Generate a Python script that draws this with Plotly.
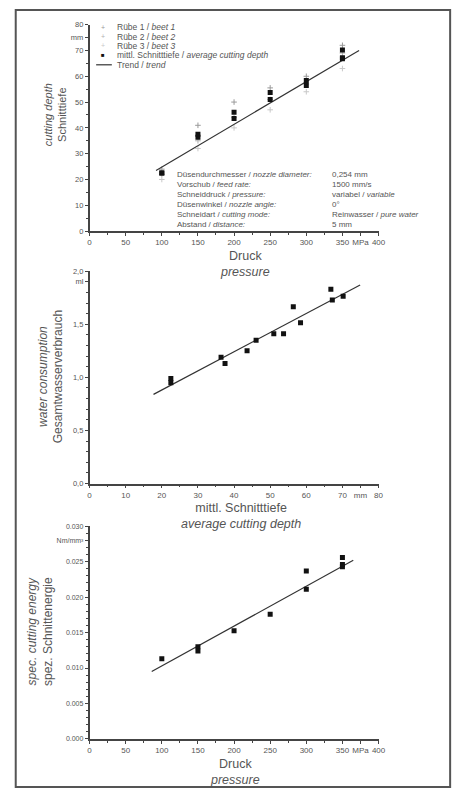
import plotly.graph_objects as go

W, H = 464, 794

# ---------------- data ----------------
pressure = [100, 150, 200, 250, 300, 350]
beet1 = [24, 41, 50, 55.5, 60, 72]
beet2 = [22, 35, 44, 51, 57, 69]
beet3 = [20, 32, 40, 47, 54, 63]

avg_pressure = [100, 100, 150, 150, 200, 200, 250, 250, 300, 300, 350, 350, 350]
avg_depth = [22.5, 22.5, 36.4, 37.5, 43.6, 46.1, 51.0, 53.7, 56.4, 58.4, 66.8, 67.2, 70.2]
trend1_x = [92, 373]
trend1_y = [23.5, 70]

water_depth = [22.5, 22.5, 36.4, 37.5, 43.6, 46.1, 51.0, 53.7, 56.4, 58.4, 66.8, 67.2, 70.2]
water_use = [0.99, 0.95, 1.19, 1.13, 1.25, 1.35, 1.41, 1.41, 1.665, 1.515, 1.83, 1.73, 1.765]
trend2_x = [17.7, 74.9]
trend2_y = [0.84, 1.87]

energy_pressure = [100, 150, 150, 200, 250, 300, 300, 350, 350, 350]
energy = [0.0113, 0.0130, 0.0124, 0.01525, 0.0176, 0.0237, 0.0211, 0.0256, 0.0246, 0.0243]
trend3_x = [86, 365]
trend3_y = [0.0095, 0.0252]

x1_ticks = [0, 50, 100, 150, 200, 250, 300, 350, 375, 400]
x1_text = ["0", "50", "100", "150", "200", "250", "300", "350", "MPa", "400"]
y1_ticks = [0, 10, 20, 30, 40, 50, 60, 70, 75, 80]
y1_text = ["0", "10", "20", "30", "40", "50", "60", "70", "mm", "80"]
x2_ticks = [0, 10, 20, 30, 40, 50, 60, 70, 75, 80]
x2_text = ["0", "10", "20", "30", "40", "50", "60", "70", "mm", "80"]
y2_ticks = [0, 0.5, 1.0, 1.5, 1.9, 2.0]
y2_text = ["0,0", "0,5", "1,0", "1,5", "ml", "2,0"]
y3_ticks = [0, 0.005, 0.010, 0.015, 0.020, 0.025, 0.028, 0.030]
y3_text = ["0.000", "0.005", "0.010", "0.015", "0.020", "0.025", "Nm/mm³", "0.030"]

info_left = ["Düsendurchmesser / <i>nozzle diameter:</i>", "Vorschub / <i>feed rate:</i>",
             "Schneiddruck / <i>pressure:</i>", "Düsenwinkel / <i>nozzle angle:</i>",
             "Schneidart / <i>cutting mode:</i>", "Abstand / <i>distance:</i>"]
info_right = ["0,254 mm", "1500 mm/s", "variabel / <i>variable</i>", "0°",
              "Reinwasser / <i>pure water</i>", "5 mm"]

legend_labels = ["Rübe 1 / <i>beet 1</i>", "Rübe 2 / <i>beet 2</i>", "Rübe 3 / <i>beet 3</i>",
                 "mittl. Schnitttiefe / <i>average cutting depth</i>", "Trend / <i>trend</i>"]

# ---------------- helpers ----------------
def px(x):
    return x / W

def py(y):
    return 1 - y / H

TXT = "#555555"
AX = "#444444"
FONT = "Liberation Sans, Arial, sans-serif"
beet_colors = ["#9a9a9a", "#b0b0b0", "#c8c8c8"]

fig = go.Figure()

# plot 1
for vals, col in zip([beet1, beet2, beet3], beet_colors):
    fig.add_trace(go.Scatter(x=pressure, y=vals, mode="markers", xaxis="x", yaxis="y",
                             marker=dict(symbol="cross-thin", size=4, line=dict(width=1, color=col)),
                             showlegend=False))
fig.add_trace(go.Scatter(x=trend1_x, y=trend1_y, mode="lines", xaxis="x", yaxis="y",
                         line=dict(color="#333", width=1.2), showlegend=False))
fig.add_trace(go.Scatter(x=avg_pressure, y=avg_depth, mode="markers", xaxis="x", yaxis="y",
                         marker=dict(symbol="square", size=5, color="#111"), showlegend=False))

# plot 2
fig.add_trace(go.Scatter(x=trend2_x, y=trend2_y, mode="lines", xaxis="x2", yaxis="y2",
                         line=dict(color="#333", width=1.2), showlegend=False))
fig.add_trace(go.Scatter(x=water_depth, y=water_use, mode="markers", xaxis="x2", yaxis="y2",
                         marker=dict(symbol="square", size=5, color="#111"), showlegend=False))

# plot 3
fig.add_trace(go.Scatter(x=trend3_x, y=trend3_y, mode="lines", xaxis="x3", yaxis="y3",
                         line=dict(color="#333", width=1.2), showlegend=False))
fig.add_trace(go.Scatter(x=energy_pressure, y=energy, mode="markers", xaxis="x3", yaxis="y3",
                         marker=dict(symbol="square", size=5, color="#111"), showlegend=False))

xdom = [px(89.3), px(384)]

def axis_common(ticks, text, fsize, minor_dtick, rng, domain, anchor):
    return dict(range=rng, domain=domain, anchor=anchor, tickmode="array", tickvals=ticks,
                ticktext=text, showgrid=False, zeroline=False, showline=True, linecolor=AX,
                linewidth=1.5, ticks="outside", ticklen=3, tickwidth=1, tickcolor=AX,
                tickfont=dict(size=fsize, color=TXT, family=FONT),
                minor=dict(tickmode="linear", tick0=0, dtick=minor_dtick, ticks="outside",
                           ticklen=2, tickwidth=1, tickcolor=AX))

fig.update_layout(
    width=W, height=H,
    margin=dict(l=0, r=0, t=0, b=0),
    paper_bgcolor="white", plot_bgcolor="white",
    font=dict(family=FONT, color=TXT),
    showlegend=False,
    xaxis=axis_common(x1_ticks, x1_text, 8, 25, [0, 400], xdom, "y"),
    yaxis=axis_common(y1_ticks, y1_text, 7.5, 5, [0, 80], [py(229.7), py(20.9)], "x"),
    xaxis2=axis_common(x2_ticks, x2_text, 8, 5, [0, 80], xdom, "y2"),
    yaxis2=axis_common(y2_ticks, y2_text, 7.5, 0.1, [0, 2.0], [py(485), py(270.3)], "x2"),
    xaxis3=axis_common(x1_ticks, x1_text, 8, 25, [0, 400], xdom, "y3"),
    yaxis3=axis_common(y3_ticks, y3_text, 7, 0.001, [0, 0.030], [py(743.3), py(528.3)], "x3"),
)

ann = []

def add_text(x, y, text, size, angle=0, xanchor="center", color=TXT):
    ann.append(dict(x=px(x), y=py(y), xref="paper", yref="paper", text=text, showarrow=False,
                    textangle=angle, xanchor=xanchor, yanchor="middle",
                    font=dict(size=size, color=color, family=FONT)))

# axis titles (two lines each, one text block)
add_text(248, 263, "Druck<br><i>pressure</i>", 12.5)
add_text(244, 518, "mittl. Schnitttiefe<br><i>average cutting depth</i>", 12.5)
add_text(238, 777, "Druck<br><i>pressure</i>", 12.5)

add_text(53.5, 112, "<i>cutting depth</i><br>Schnitttiefe", 11, angle=-90)
add_text(49.5, 377, "<i>water consumption</i><br>Gesamtwasserverbrauch", 12, angle=-90)
add_text(39, 635, "<i>spec. cutting energy</i><br>spez. Schnittenergie", 12, angle=-90)

# info block
info_y = [172.3, 182.3, 192.3, 202.7, 213.0, 223.3]
for yy, lt, rt in zip(info_y, info_left, info_right):
    add_text(176.5, yy, lt, 8, xanchor="left")
    add_text(334.5, yy, rt, 8, xanchor="left")

# legend
leg_y = [23.5, 33, 42, 52, 61.5]
sym = ["+", "+", "+", "■", ""]
sym_col = beet_colors + ["#111", "#111"]
for i, (yy, lab) in enumerate(zip(leg_y, legend_labels)):
    add_text(115, yy, lab, 8.5, xanchor="left")
    if sym[i]:
        add_text(103.5, yy, sym[i], 7 if i < 3 else 6, color=sym_col[i])

shapes = [
    dict(type="line", xref="paper", yref="paper", x0=px(96), x1=px(112), y0=py(61.5), y1=py(61.5),
         line=dict(color="#333", width=1.2)),
    dict(type="rect", xref="paper", yref="paper", x0=px(14), x1=px(457), y0=py(792), y1=py(6),
         line=dict(color="#555", width=2)),
]

fig.update_layout(annotations=ann, shapes=shapes)
fig.write_html("out.html", config={"displayModeBar": False},
               post_script="document.body.style.margin='0px';")
